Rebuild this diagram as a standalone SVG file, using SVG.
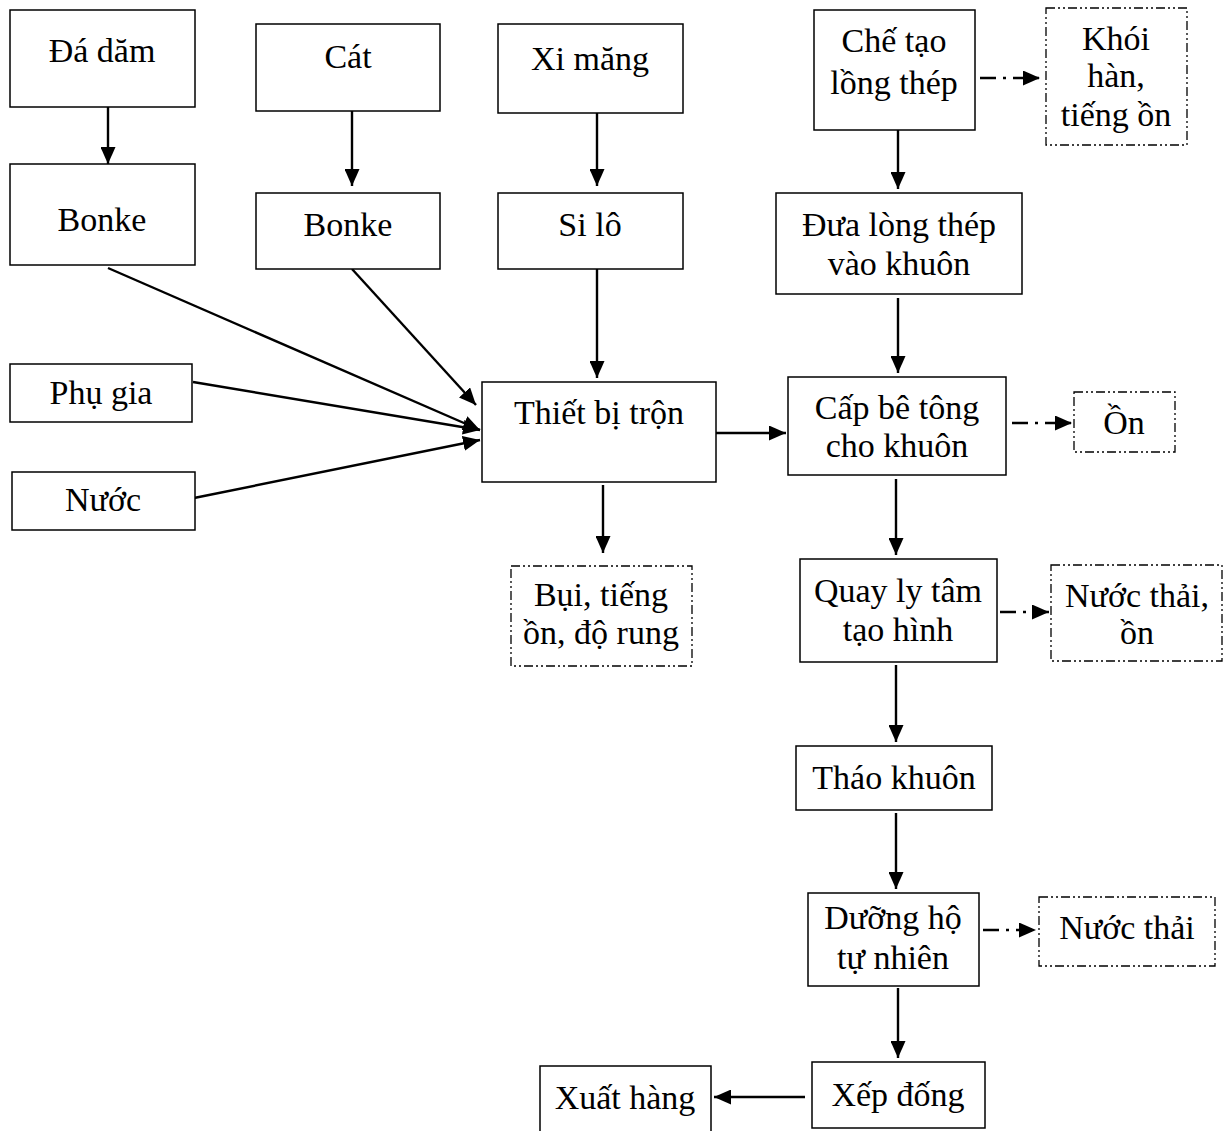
<svg xmlns="http://www.w3.org/2000/svg" width="1227" height="1131" viewBox="0 0 1227 1131">
<style>
.b{fill:#fff;stroke:#000;stroke-width:1.5}
.d{fill:#fff;stroke:#000;stroke-width:1.3;stroke-dasharray:9 3 2 3 2 3}
text{font-family:"Liberation Serif","Times New Roman",serif;font-size:34px;text-anchor:middle;fill:#000}
.c line{stroke:#000;stroke-width:2.4}
.c .dl{stroke-dasharray:16 7 3 7}
</style>
<defs>
<marker id="ah" viewBox="0 0 10 10" refX="10" refY="5" markerWidth="17" markerHeight="15" markerUnits="userSpaceOnUse" orient="auto" preserveAspectRatio="none">
<path d="M0,0L10,5L0,10z" fill="#000"/>
</marker>
</defs>
<g class="c">
<line x1="108" y1="107" x2="108" y2="164" marker-end="url(#ah)"/>
<line x1="352" y1="111" x2="352" y2="186" marker-end="url(#ah)"/>
<line x1="597" y1="113" x2="597" y2="186" marker-end="url(#ah)"/>
<line x1="108" y1="268" x2="480" y2="430" marker-end="url(#ah)"/>
<line x1="352" y1="269" x2="476" y2="405" marker-end="url(#ah)"/>
<line x1="193" y1="382" x2="480" y2="430" marker-end="url(#ah)"/>
<line x1="194" y1="498" x2="480" y2="440" marker-end="url(#ah)"/>
<line x1="597" y1="269" x2="597" y2="378" marker-end="url(#ah)"/>
<line x1="716" y1="433" x2="786" y2="433" marker-end="url(#ah)"/>
<line x1="603" y1="485" x2="603" y2="553" marker-end="url(#ah)"/>
<line x1="898" y1="130" x2="898" y2="189" marker-end="url(#ah)"/>
<line x1="898" y1="298" x2="898" y2="373" marker-end="url(#ah)"/>
<line x1="896" y1="479" x2="896" y2="555" marker-end="url(#ah)"/>
<line x1="896" y1="665" x2="896" y2="742" marker-end="url(#ah)"/>
<line x1="896" y1="813" x2="896" y2="889" marker-end="url(#ah)"/>
<line x1="898" y1="988" x2="898" y2="1058" marker-end="url(#ah)"/>
<line x1="805" y1="1097" x2="714" y2="1097" marker-end="url(#ah)"/>
<line class="dl" x1="980" y1="78" x2="1040" y2="78" marker-end="url(#ah)"/>
<line class="dl" x1="1012" y1="423" x2="1072" y2="423" marker-end="url(#ah)"/>
<line class="dl" x1="1000" y1="612" x2="1049" y2="612" marker-end="url(#ah)"/>
<line class="dl" x1="983" y1="930" x2="1036" y2="930" marker-end="url(#ah)"/>
</g>
<g id="da-dam"><rect class="b" x="10" y="10" width="185" height="97"/><text x="102" y="62">Đá dăm</text></g>
<g id="cat"><rect class="b" x="256" y="24" width="184" height="87"/><text x="348" y="68">Cát</text></g>
<g id="xi-mang"><rect class="b" x="498" y="24" width="185" height="89"/><text x="590" y="70">Xi măng</text></g>
<g id="che-tao"><rect class="b" x="814" y="10" width="161" height="120"/><text x="894" y="52">Chế tạo</text><text x="894" y="94">lồng thép</text></g>
<g id="khoi-han"><rect class="d" x="1046" y="8" width="141" height="137"/><text x="1116" y="50">Khói</text><text x="1116" y="87">hàn,</text><text x="1116" y="126">tiếng ồn</text></g>
<g id="bonke1"><rect class="b" x="10" y="164" width="185" height="101"/><text x="102" y="231">Bonke</text></g>
<g id="bonke2"><rect class="b" x="256" y="193" width="184" height="76"/><text x="348" y="236">Bonke</text></g>
<g id="si-lo"><rect class="b" x="498" y="193" width="185" height="76"/><text x="590" y="236">Si lô</text></g>
<g id="dua-long"><rect class="b" x="776" y="193" width="246" height="101"/><text x="899" y="236">Đưa lòng thép</text><text x="899" y="275">vào khuôn</text></g>
<g id="phu-gia"><rect class="b" x="10" y="364" width="182" height="58"/><text x="101" y="404">Phụ gia</text></g>
<g id="nuoc"><rect class="b" x="12" y="472" width="183" height="58"/><text x="103" y="511">Nước</text></g>
<g id="tron"><rect class="b" x="482" y="382" width="234" height="100"/><text x="599" y="424">Thiết bị trộn</text></g>
<g id="cap-be-tong"><rect class="b" x="788" y="377" width="218" height="98"/><text x="897" y="419">Cấp bê tông</text><text x="897" y="457">cho khuôn</text></g>
<g id="on"><rect class="d" x="1074" y="392" width="101" height="60"/><text x="1124" y="434">Ồn</text></g>
<g id="bui"><rect class="d" x="511" y="566" width="181" height="100"/><text x="601" y="606">Bụi, tiếng</text><text x="601" y="644">ồn, độ rung</text></g>
<g id="quay-ly-tam"><rect class="b" x="800" y="559" width="197" height="103"/><text x="898" y="602">Quay ly tâm</text><text x="898" y="641">tạo hình</text></g>
<g id="nuoc-thai-on"><rect class="d" x="1051" y="565" width="171" height="96"/><text x="1137" y="607">Nước thải,</text><text x="1137" y="644">ồn</text></g>
<g id="thao-khuon"><rect class="b" x="796" y="746" width="196" height="64"/><text x="894" y="789">Tháo khuôn</text></g>
<g id="duong-ho"><rect class="b" x="808" y="893" width="171" height="93"/><text x="893" y="929">Dưỡng hộ</text><text x="893" y="969">tự nhiên</text></g>
<g id="nuoc-thai"><rect class="d" x="1039" y="897" width="176" height="69"/><text x="1127" y="939">Nước thải</text></g>
<g id="xep-dong"><rect class="b" x="812" y="1062" width="173" height="66"/><text x="898" y="1106">Xếp đống</text></g>
<g id="xuat-hang"><path class="b" d="M540,1131V1066H711V1131"/><text x="625" y="1109">Xuất hàng</text></g>
</svg>
